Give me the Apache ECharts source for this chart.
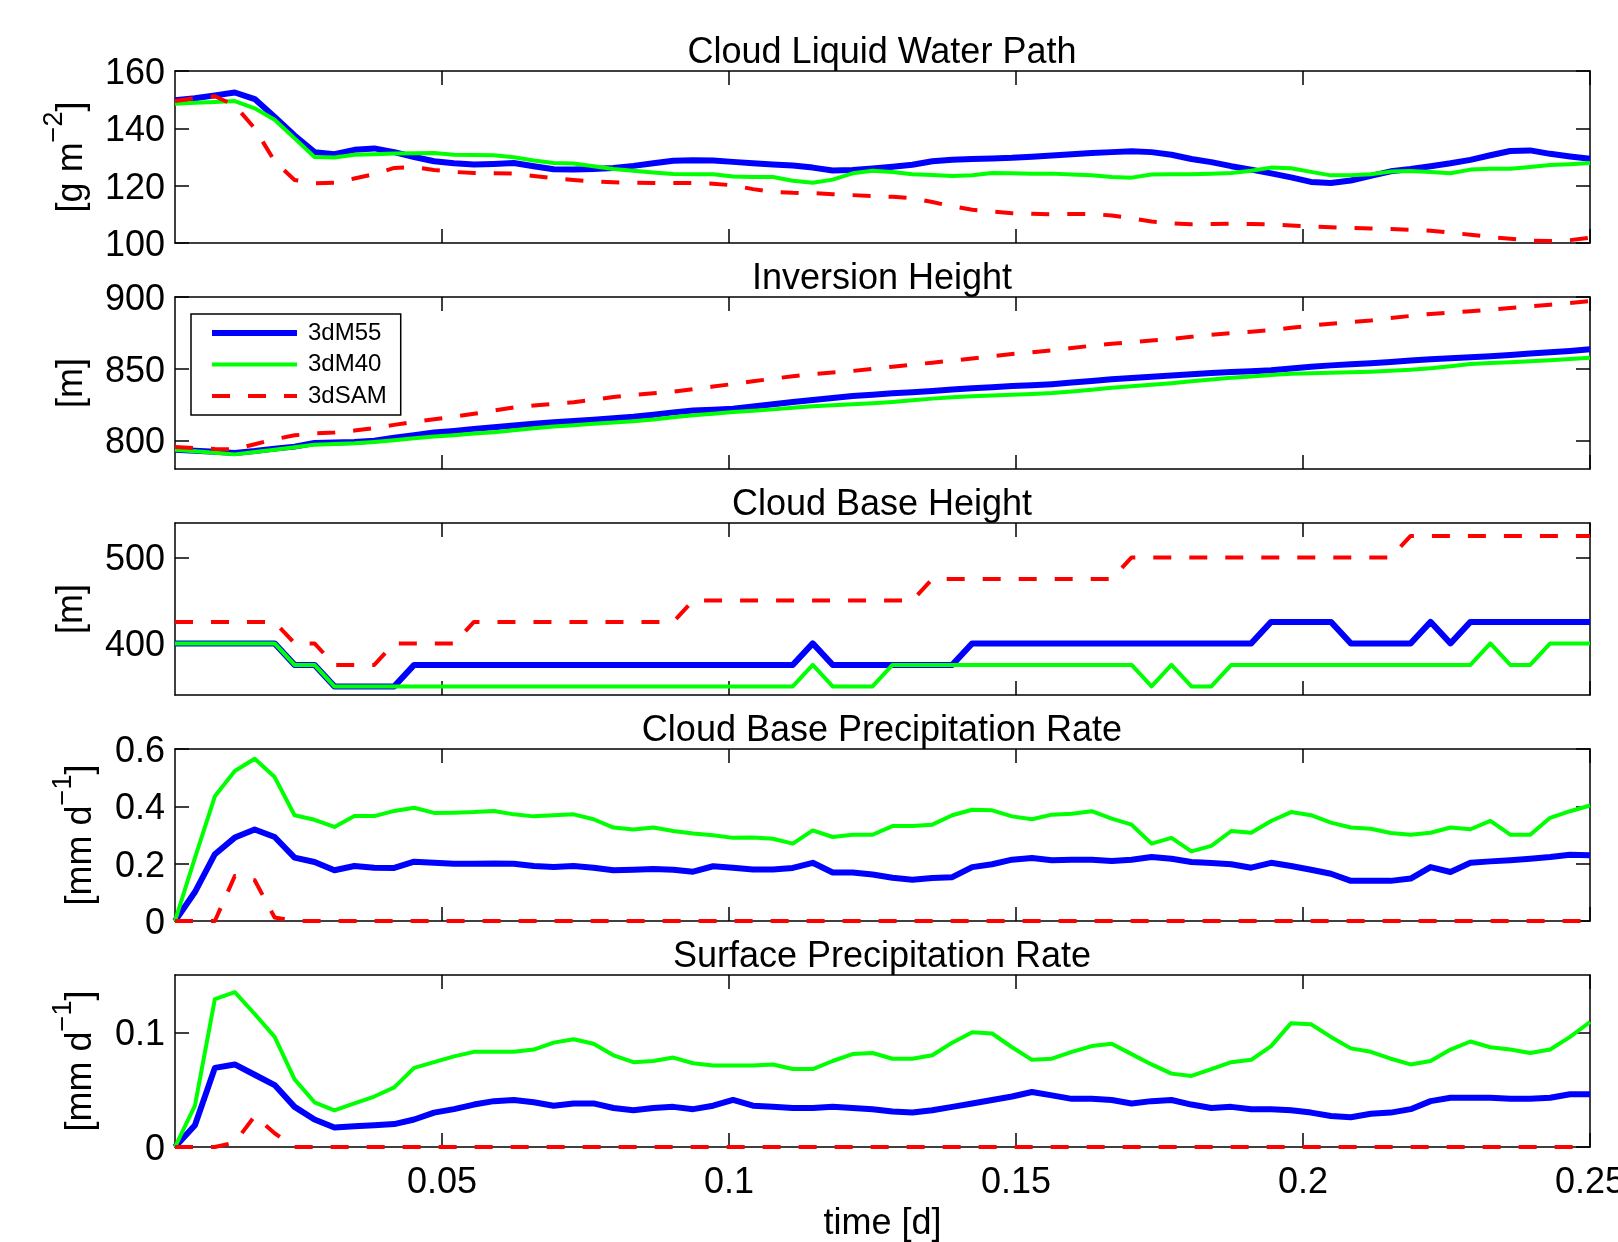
<!DOCTYPE html>
<html>
<head>
<meta charset="utf-8">
<script src="https://cdn.jsdelivr.net/npm/echarts@6/dist/echarts.min.js"></script>
<style>
html, body { margin: 0; padding: 0; background: #fff; }
#main { width: 1618px; height: 1242px; }
</style>
</head>
<body>
<div id="main"></div>
<script>
// sample times, minutes since start
var minutes = [5,10,15,20,25,30,35,40,45,50,55,60,65,70,75,80,85,90,95,100,105,110,115,120,
  125,130,135,140,145,150,155,160,165,170,175,180,185,190,195,200,205,210,215,220,225,230,235,240,
  245,250,255,260,265,270,275,280,285,290,295,300,305,310,315,320,325,330,335,340,345,350,355,360];

// Cloud Liquid Water Path [g m-2]
var lwp55 = [149.8,150.5,151.5,152.5,150.2,144,137.5,131.7,131,132.5, 133,131.7,130,128.5,127.8,127.4,127.6,127.9,126.8,125.7,
  125.6,125.8,126.2,126.9,127.8,128.7,128.9,128.8,128.3,127.8, 127.4,127,126.3,125.3,125.5,126,126.6,127.3,128.5,129,
  129.3,129.5,129.7,130.1,130.5,131,131.4,131.7,132,131.7, 130.8,129.3,128.2,126.8,125.6,124.3,122.9,121.3,120.9,121.8,
  123.4,125,125.8,126.8,127.8,129,130.6,132.1,132.3,131.1, 130.2,129.4];
var lwp40 = [148.6,148.9,149.2,149.5,147,143,136.5,130,129.8,130.8, 131,131.2,131.3,131.4,130.8,130.7,130.6,129.9,128.8,127.9,
  127.7,126.8,125.8,125.2,124.6,124.1,124,124,123.2,123, 123,121.7,121,122.1,124.3,125.2,124.8,124,123.7,123.4,
  123.6,124.4,124.3,124.2,124.2,123.9,123.6,123,122.8,123.9, 124,124,124.2,124.4,125.2,126.3,126.1,124.8,123.6,123.6,
  124,124.9,125.1,124.8,124.3,125.6,125.9,125.9,126.5,127.2, 127.5,127.9];
var lwpSam = [149.5,150.5,151.2,148,140,128.5,122,120.8,121,122.5, 124,126.2,126.5,125.5,124.8,124.4,124.3,124.2,123.4,122.6,
  122,121.5,121.2,121,120.9,120.9,120.9,120.7,120.1,118.8, 117.8,117.5,117.4,117,116.7,116.4,116.1,115.6,114.3,112.8,
  111.6,111,110.4,110.2,110,110.1,110.1,109.6,108.6,107.5, 106.9,106.5,106.6,106.7,106.6,106.5,106.1,105.8,105.5,105.3,
  105.1,104.9,104.6,104.3,103.6,102.9,102.1,101.5,100.8,100.7, 101,101.8];

// Inversion Height [m]
var inv55 = [793.5,792.7,792,791.2,792.5,794.2,795.6,798.1,798.5,798.9, 799.8,801.8,803.6,805.4,806.6,808,809.2,810.3,811.5,812.6,
  813.5,814.4,815.4,816.4,817.8,819.5,820.8,821.4,822.1,823.6, 825.1,826.7,828.2,829.6,830.9,831.8,832.8,833.6,834.5,835.4,
  836.3,837.1,837.9,838.4,839.2,840.3,841.4,842.6,843.5,844.4, 845.2,846.1,847,847.6,848.2,848.9,850.1,851.4,852.3,853,
  853.7,854.6,855.7,856.6,857.3,858,858.7,859.6,860.5,861.4, 862.4,863.5];
var inv40 = [793.5,792.4,791.3,790.2,791.8,793.5,795.2,797,797.5,797.9, 798.9,800.1,801.4,802.6,803.6,804.7,805.7,807,808.4,809.6,
  810.6,811.6,812.4,813.3,814.5,816.1,817.5,818.6,819.8,820.7, 821.6,822.8,823.8,824.5,825.1,825.8,826.8,827.9,829.1,830.1,
  830.7,831.3,831.8,832.4,833,834,835.3,836.7,837.7,838.8, 839.9,841.2,842.4,843.7,844.6,845.5,846.4,846.8,847.1,847.5,
  847.9,848.5,849.2,850.3,851.7,853.2,853.9,854.5,855.1,855.9, 856.8,857.7];
var invSam = [795.3,794.6,794,793.8,797.3,800.8,803.5,804.8,805.5,806.8, 808.5,810.8,813,814.7,816.5,818.5,820.8,823,824.3,825.4,
  826.6,828.4,830.2,831.6,832.8,834,835.7,837.5,839.3,841.2, 843,844.7,846.2,847.3,848.4,849.9,851.4,852.8,854.2,855.6,
  857.1,858.7,860.2,861.5,862.8,864.4,866,867.4,868.5,869.6, 870.8,872.2,873.6,874.8,875.8,876.9,878.5,880.1,881.4,882.5,
  883.6,885.4,886.8,888.2,889.1,890,891.2,892.4,893.5,894.6, 895.8,897.2];

// Cloud Base Height [m]
var cbh55 = [400,400,400,400,400,400,375,375,350,350, 350,350,375,375,375,375,375,375,375,375,
  375,375,375,375,375,375,375,375,375,375, 375,375,400,375,375,375,375,375,375,375,
  400,400,400,400,400,400,400,400,400,400, 400,400,400,400,400,425,425,425,425,400,
  400,400,400,425,400,425,425,425,425,425, 425,425];
var cbh40 = [400,400,400,400,400,400,375,375,350,350, 350,350,350,350,350,350,350,350,350,350,
  350,350,350,350,350,350,350,350,350,350, 350,350,375,350,350,350,375,375,375,375,
  375,375,375,375,375,375,375,375,375,350, 375,350,350,375,375,375,375,375,375,375,
  375,375,375,375,375,375,400,375,375,400, 400,400];
var cbhSam = [425,425,425,425,425,425,400,400,375,375, 375,400,400,400,400,425,425,425,425,425,
  425,425,425,425,425,425,450,450,450,450, 450,450,450,450,450,450,450,450,475,475,
  475,475,475,475,475,475,475,475,500,500, 500,500,500,500,500,500,500,500,500,500,
  500,500,525,525,525,525,525,525,525,525, 525,525];

// Cloud Base Precipitation Rate [mm d-1]
var cbp55 = [0,0.101,0.233,0.291,0.319,0.293,0.221,0.206,0.177,0.192, 0.186,0.185,0.207,0.203,0.2,0.2,0.201,0.2,0.192,0.188,
  0.192,0.186,0.177,0.179,0.181,0.179,0.172,0.191,0.186,0.18, 0.18,0.185,0.203,0.169,0.169,0.162,0.151,0.144,0.15,0.153,
  0.188,0.198,0.214,0.22,0.212,0.214,0.214,0.209,0.214,0.223, 0.217,0.206,0.202,0.198,0.186,0.203,0.192,0.179,0.165,0.14,
  0.14,0.14,0.148,0.188,0.171,0.203,0.208,0.212,0.217,0.223, 0.231,0.229];
var cbp40 = [0,0.22,0.435,0.523,0.566,0.502,0.369,0.353,0.328,0.366, 0.366,0.384,0.395,0.377,0.378,0.38,0.384,0.372,0.365,0.369,
  0.372,0.355,0.326,0.319,0.326,0.314,0.305,0.299,0.29,0.291, 0.287,0.27,0.316,0.293,0.301,0.301,0.331,0.331,0.336,0.369,
  0.388,0.386,0.365,0.355,0.371,0.374,0.383,0.357,0.336,0.27, 0.29,0.243,0.262,0.314,0.308,0.349,0.38,0.369,0.343,0.326,
  0.322,0.307,0.301,0.308,0.326,0.32,0.349,0.301,0.301,0.36, 0.383,0.403];
var cbpSam = [0,0,0,0.157,0.142,0.012,0,0,0,0, 0,0,0,0,0,0,0,0,0,0,
  0,0,0,0,0,0,0,0,0,0, 0,0,0,0,0,0,0,0,0,0,
  0,0,0,0,0,0,0,0,0,0, 0,0,0,0,0,0,0,0,0,0,
  0,0,0,0,0,0,0,0,0,0, 0,0];

// Surface Precipitation Rate [mm d-1]
var spr55 = [0,0.019,0.069,0.072,0.063,0.054,0.035,0.024,0.017,0.018, 0.019,0.02,0.024,0.03,0.033,0.037,0.04,0.041,0.039,0.036,
  0.038,0.038,0.034,0.032,0.034,0.035,0.033,0.036,0.041,0.036, 0.035,0.034,0.034,0.035,0.034,0.033,0.031,0.03,0.032,0.035,
  0.038,0.041,0.044,0.048,0.045,0.042,0.042,0.041,0.038,0.04, 0.041,0.037,0.034,0.035,0.033,0.033,0.032,0.03,0.027,0.026,
  0.029,0.03,0.033,0.04,0.043,0.043,0.043,0.042,0.042,0.043, 0.046,0.046];
var spr40 = [0,0.036,0.129,0.135,0.116,0.096,0.059,0.039,0.032,0.038, 0.044,0.052,0.069,0.074,0.079,0.083,0.083,0.083,0.085,0.091,
  0.094,0.09,0.08,0.074,0.075,0.078,0.073,0.071,0.071,0.071, 0.072,0.068,0.068,0.075,0.081,0.082,0.077,0.077,0.08,0.091,
  0.1,0.099,0.087,0.076,0.077,0.083,0.088,0.09,0.081,0.072, 0.064,0.062,0.068,0.074,0.076,0.088,0.108,0.107,0.096,0.086,
  0.083,0.077,0.072,0.075,0.085,0.092,0.087,0.085,0.082,0.085, 0.096,0.109];
var sprSam = [0,0,0,0.004,0.027,0.012,0,0,0,0, 0,0,0,0,0,0,0,0,0,0,
  0,0,0,0,0,0,0,0,0,0, 0,0,0,0,0,0,0,0,0,0,
  0,0,0,0,0,0,0,0,0,0, 0,0,0,0,0,0,0,0,0,0,
  0,0,0,0,0,0,0,0,0,0, 0,0];

var xTicks = [0.05, 0.1, 0.15, 0.2, 0.25];
var seriesNames = ['3dM55', '3dM40', '3dSAM'];

var panels = [
  { title: 'Cloud Liquid Water Path', unit: '[g m{sup|\u22122}]', min: 100, max: 160, ticks: [100, 120, 140, 160], data: [lwp55, lwp40, lwpSam] },
  { title: 'Inversion Height', unit: '[m]', min: 780, max: 900, ticks: [800, 850, 900], data: [inv55, inv40, invSam] },
  { title: 'Cloud Base Height', unit: '[m]', min: 340, max: 540, ticks: [400, 500], data: [cbh55, cbh40, cbhSam] },
  { title: 'Cloud Base Precipitation Rate', unit: '[mm d{sup|\u22121}]', min: 0, max: 0.6, ticks: [0, 0.2, 0.4, 0.6], data: [cbp55, cbp40, cbpSam] },
  { title: 'Surface Precipitation Rate', unit: '[mm d{sup|\u22121}]', min: 0, max: 0.15, ticks: [0, 0.1], data: [spr55, spr40, sprSam] }
];

var FONT = 'Liberation Sans, Arial, sans-serif';
var gridTop = [71, 297, 523, 749, 975];
var gridH = 172;
var nameGaps = [71.5, 84.5, 84.5, 62.5, 62.5];
var lineStyles = [
  { color: '#0000ff', width: 6, type: 'solid' },
  { color: '#00ff00', width: 4, type: 'solid' },
  { color: '#ff0000', width: 4, type: [18, 18] }
];

function pairs(values) {
  return minutes.map(function (m, i) { return [m / 1440, values[i]]; });
}

var xMin = minutes[0] / 1440;
var xMax = minutes[minutes.length - 1] / 1440;
var axisLine = { show: true, onZero: false, lineStyle: { color: '#000', width: 1.5 } };

var grids = [], xAxes = [], yAxes = [], titles = [], series = [];

panels.forEach(function (p, i) {
  grids.push({ left: 175, right: 28, top: gridTop[i], height: gridH, containLabel: false, outerBoundsMode: 'none' });
  titles.push({
    text: p.title, left: 882, top: gridTop[i] - 36, textAlign: 'center', padding: 0,
    textStyle: { fontFamily: FONT, fontSize: 36, fontWeight: 'normal', color: '#000' }
  });
  var last = i === panels.length - 1;
  // bottom x axis
  xAxes.push({
    type: 'value', gridIndex: i, position: 'bottom', min: xMin, max: xMax,
    axisLine: axisLine,
    axisTick: { show: true, inside: true, length: 14, customValues: xTicks, lineStyle: { color: '#000', width: 1.5 } },
    axisLabel: { show: last, customValues: xTicks, margin: 18, fontFamily: FONT, fontSize: 36, color: '#000', hideOverlap: false },
    splitLine: { show: false },
    name: last ? 'time [d]' : '', nameLocation: 'middle', nameGap: 59, nameMoveOverlap: false,
    nameTextStyle: { fontFamily: FONT, fontSize: 36, color: '#000' }
  });
  // top x axis (ticks only)
  xAxes.push({
    type: 'value', gridIndex: i, position: 'top', min: xMin, max: xMax,
    axisLine: axisLine,
    axisTick: { show: true, inside: true, length: 14, customValues: xTicks, lineStyle: { color: '#000', width: 1.5 } },
    axisLabel: { show: false },
    splitLine: { show: false }
  });
  var hasSup = p.unit.indexOf('sup') >= 0;
  yAxes.push({
    type: 'value', gridIndex: i, position: 'left', min: p.min, max: p.max,
    axisLine: axisLine,
    axisTick: { show: true, inside: true, length: 14, customValues: p.ticks, lineStyle: { color: '#000', width: 1.5 } },
    axisLabel: {
      show: true, customValues: p.ticks, margin: 10, fontFamily: FONT, fontSize: 36, color: '#000',
      formatter: function (v) { return '{t|' + v + '}'; },
      rich: { t: { fontFamily: FONT, fontSize: 36, color: '#000', padding: [6, 0, 0, 0] } }
    },
    splitLine: { show: false },
    name: p.unit, nameLocation: 'middle', nameGap: nameGaps[i], nameMoveOverlap: false,
    nameTextStyle: {
      fontFamily: FONT, fontSize: 36, color: '#000', lineHeight: hasSup ? 62 : 36,
      rich: { sup: { fontFamily: FONT, fontSize: 27, lineHeight: 27, verticalAlign: 'top', color: '#000' } }
    }
  });
  yAxes.push({
    type: 'value', gridIndex: i, position: 'right', min: p.min, max: p.max,
    axisLine: axisLine,
    axisTick: { show: true, inside: true, length: 14, customValues: p.ticks, lineStyle: { color: '#000', width: 1.5 } },
    axisLabel: { show: false },
    splitLine: { show: false }
  });
  p.data.forEach(function (vals, j) {
    series.push({
      name: seriesNames[j], type: 'line', xAxisIndex: 2 * i, yAxisIndex: 2 * i,
      data: pairs(vals), symbol: 'none', showSymbol: false, z: 2 + j,
      lineStyle: { color: lineStyles[j].color, width: lineStyles[j].width, type: lineStyles[j].type, cap: 'butt', join: 'round' },
      itemStyle: { color: lineStyles[j].color }
    });
  });
});

var legendData = seriesNames.map(function (name, j) {
  return {
    name: name,
    itemStyle: { opacity: 0 },
    lineStyle: { color: lineStyles[j].color, width: lineStyles[j].width, type: lineStyles[j].type }
  };
});

var chart = echarts.init(document.getElementById('main'));

var option = {
  animation: false,
  backgroundColor: '#fff',
  title: titles,
  grid: grids,
  xAxis: xAxes,
  yAxis: yAxes,
  legend: {
    data: legendData, orient: 'vertical', left: 191, top: 314,
    padding: [7, 14, 7, 18], itemWidth: 85, itemHeight: 14, itemGap: 7.5,
    borderColor: '#000', borderWidth: 1.5, backgroundColor: '#fff',
    textStyle: { fontFamily: FONT, fontSize: 24, color: '#000', lineHeight: 24, padding: [0, 0, 0, 6] }
  },
  series: series
};

chart.setOption(option);
</script>
</body>
</html>
